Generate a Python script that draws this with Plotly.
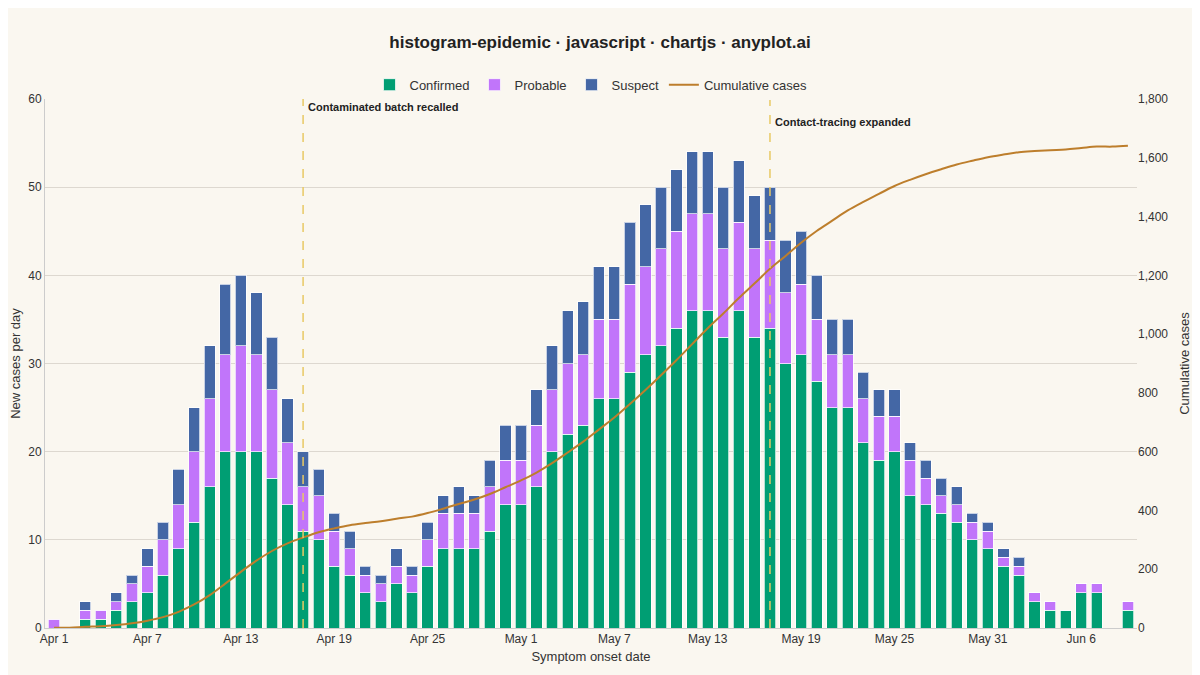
import plotly.graph_objects as go
import pandas as pd
import numpy as np

dates = pd.date_range("2024-04-01", periods=70, freq="D")
confirmed = [0,0,1,1,2,3,4,6,9,12,16,20,20,20,17,14,11,10,7,6,4,3,5,4,7,9,9,9,11,14,
             14,16,20,22,23,26,26,29,31,32,34,36,36,33,36,33,34,30,31,28,25,25,21,19,20,15,14,13,12,10,
             9,7,6,3,2,2,4,4,0,2]
probable = [1,0,1,1,1,2,3,4,5,8,10,11,12,11,10,7,5,5,4,3,2,2,2,2,3,4,4,4,5,5,
            5,7,7,8,8,9,9,10,10,11,11,11,11,10,10,10,10,8,8,7,6,6,5,5,4,4,3,2,2,2,
            2,1,1,1,1,0,1,1,0,1]
suspect = [0,0,1,0,1,1,2,2,4,5,6,8,8,7,6,5,4,3,2,2,1,1,2,1,2,2,3,2,3,4,
           4,4,5,6,6,6,6,7,7,7,7,7,7,7,7,6,6,6,6,5,4,4,3,3,3,2,2,2,2,1,
           1,1,1,0,0,0,0,0,0,0]
events = [("2024-04-17", "Contaminated batch recalled", 1.0), ("2024-05-17", "Contact-tracing expanded", 0.972)]
tick_dates = pd.date_range("2024-04-01", "2024-06-06", freq="6D")

totals = np.array(confirmed) + np.array(probable) + np.array(suspect)
cumulative = np.cumsum(totals)

bg = "#FAF7F0"
fig = go.Figure()
for name, vals, col in [("Confirmed", confirmed, "#009E73"), ("Probable", probable, "#C175FA"), ("Suspect", suspect, "#4467A5")]:
    fig.add_bar(x=dates, y=vals, name=name, marker=dict(color=col, line=dict(color="rgba(255,255,255,0.7)", width=1)), width=0.72*86400000)
fig.add_scatter(x=dates, y=cumulative, name="Cumulative cases", yaxis="y2", mode="lines",
                line=dict(color="#BD7E2C", width=2, shape="spline"))

shapes = []
annotations = []
for d, txt, yy in events:
    shapes.append(dict(type="line", xref="x", yref="paper", x0=d, x1=d, y0=0, y1=1,
                       line=dict(color="#E8C964", width=1.5, dash="dash")))
    annotations.append(dict(x=d, y=yy, xref="x", yref="paper", text="<b>"+txt+"</b>", showarrow=False,
                            xanchor="left", yanchor="top", xshift=3, font=dict(size=11, color="#222")))

fig.update_layout(
    width=1184, height=667, paper_bgcolor=bg, plot_bgcolor=bg, barmode="stack", bargap=0.28,
    font=dict(family="Liberation Sans, Arial", color="#333", size=12),
    title=dict(text="<b>histogram-epidemic · javascript · chartjs · anyplot.ai</b>", x=0.5, y=0.949, xanchor="center", yanchor="middle", font=dict(size=17, color="#222")),
    legend=dict(orientation="h", x=0.5, xanchor="center", y=1.027, yanchor="middle", font=dict(size=13), traceorder="normal"),
    margin=dict(l=37, r=55, t=91, b=47),
    xaxis=dict(title=dict(text="Symptom onset date", font=dict(size=13), standoff=6), tickvals=tick_dates, tickformat="%b %-d",
               showgrid=False, range=[dates[0]-pd.Timedelta(hours=14), dates[-1]+pd.Timedelta(hours=14)],
               showline=True, linecolor="#ccc", ticks="", tickfont=dict(size=12), automargin=False),
    yaxis=dict(title=dict(text="New cases per day", font=dict(size=13)), range=[0, 60], dtick=10, gridcolor="#DDD8D0",
               zeroline=False, showline=True, linecolor="#ccc", tickfont=dict(size=12), automargin=False),
    yaxis2=dict(title=dict(text="Cumulative cases", font=dict(size=13)), overlaying="y", side="right", range=[0, 1800], dtick=200,
                tickformat=",", showgrid=False, zeroline=False, tickfont=dict(size=12), automargin=False),
    shapes=shapes, annotations=annotations,
)
fig.write_html("out.html")
